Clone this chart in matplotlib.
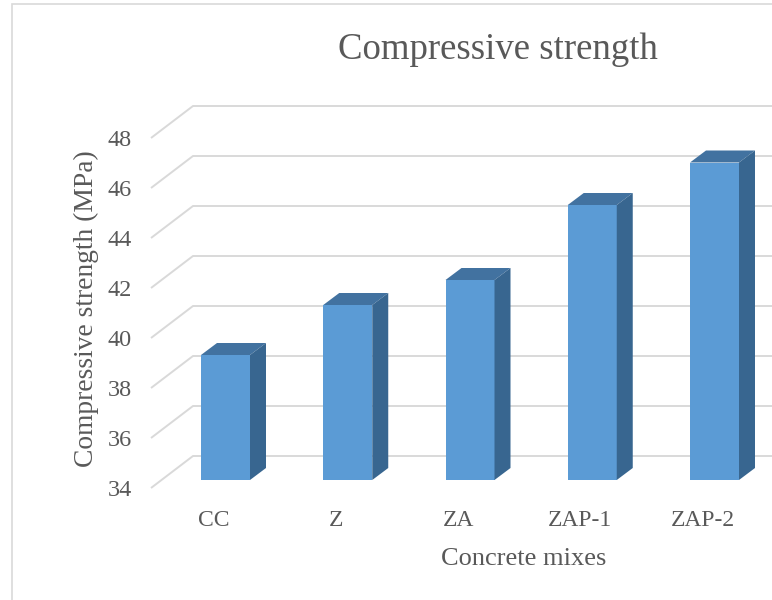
import numpy as np
import matplotlib
matplotlib.use("Agg")
import matplotlib.pyplot as plt
from matplotlib.patches import Polygon, Rectangle

plt.rcParams['font.family'] = ['Liberation Serif', 'DejaVu Serif']

mixes = ['CC', 'Z', 'ZA', 'ZAP-1', 'ZAP-2']
strength = [39.0, 41.0, 42.0, 45.0, 46.7]
y_ticks = [34, 36, 38, 40, 42, 44, 46, 48]

base = 34
text_col = '#595959'
grid_col = '#D9D9D9'
front_col = '#5B9BD5'
top_col = '#4272A0'
side_col = '#386690'

W, H = 772, 600
fig = plt.figure(figsize=(W / 100, H / 100), dpi=100)
ax = fig.add_axes([0, 0, 1, 1])

# one category = 122.25 px, 1 MPa = 25 px on the bar front plane
px_x = 122.25
px_y = 25.0
x0 = -225.5 / px_x
y0 = base - 120 / px_y
ax.set_xlim(x0, x0 + W / px_x)
ax.set_ylim(y0, y0 + H / px_y)
ax.axis('off')

def dx(p):
    return p / px_x

def dy(p):
    return p / px_y

# depth offsets (px): back wall, front floor edge, bar depth
back = (dx(31.5), dy(24))
front = (dx(-10.5), dy(-8))
depth = (dx(16), dy(12))
wall_x = dx(161.5 - 225.5)

# gridlines: slanted on the side wall, flat on the back wall
for v in y_ticks:
    xs = [wall_x + front[0], wall_x + back[0], x0 + W / px_x + 1]
    ys = [v + front[1], v + back[1], v + back[1]]
    ax.plot(xs, ys, color=grid_col, lw=1.4, zorder=1, solid_capstyle='butt')
    ax.text(wall_x + front[0] + dx(-19), v + front[1] - dy(2), str(v),
            ha='right', va='center', fontsize=17.5, color=text_col)

# 3d bars
xpos = np.arange(len(mixes))
bw = 49 / px_x
ax.bar(xpos, np.array(strength) - base, bottom=base, width=bw,
       color=front_col, linewidth=0, zorder=3)
for x, v, name in zip(xpos, strength, mixes):
    l, r = x - bw / 2, x + bw / 2
    top = [(l, v), (r, v), (r + depth[0], v + depth[1]), (l + depth[0], v + depth[1])]
    side = [(r, base), (r, v), (r + depth[0], v + depth[1]), (r + depth[0], base + depth[1])]
    ax.add_patch(Polygon(top, closed=True, facecolor=top_col, edgecolor='none', zorder=3))
    ax.add_patch(Polygon(side, closed=True, facecolor=side_col, edgecolor='none', zorder=3))
    ax.text(x + dx(-12), base - dy(40.7), name, ha='center', va='center',
            fontsize=17, color=text_col)

# chart area border
fig.patches.append(Rectangle((12 / W, -0.1), 1.2, (H - 4) / H + 0.1,
                             transform=fig.transFigure, fill=False,
                             edgecolor=grid_col, lw=1.2))

fig.text(498 / W, 1 - 59 / H, 'Compressive strength', ha='center', va='baseline',
         fontsize=26.5, color=text_col)
fig.text(524 / W, 1 - 559 / H, 'Concrete mixes', ha='center', va='center',
         fontsize=19, color=text_col)
fig.text(86 / W, 1 - 309 / H, 'Compressive strength (MPa)', ha='center', va='center',
         rotation=90, fontsize=19.8, color=text_col)

fig.savefig('out.png', dpi=100)
